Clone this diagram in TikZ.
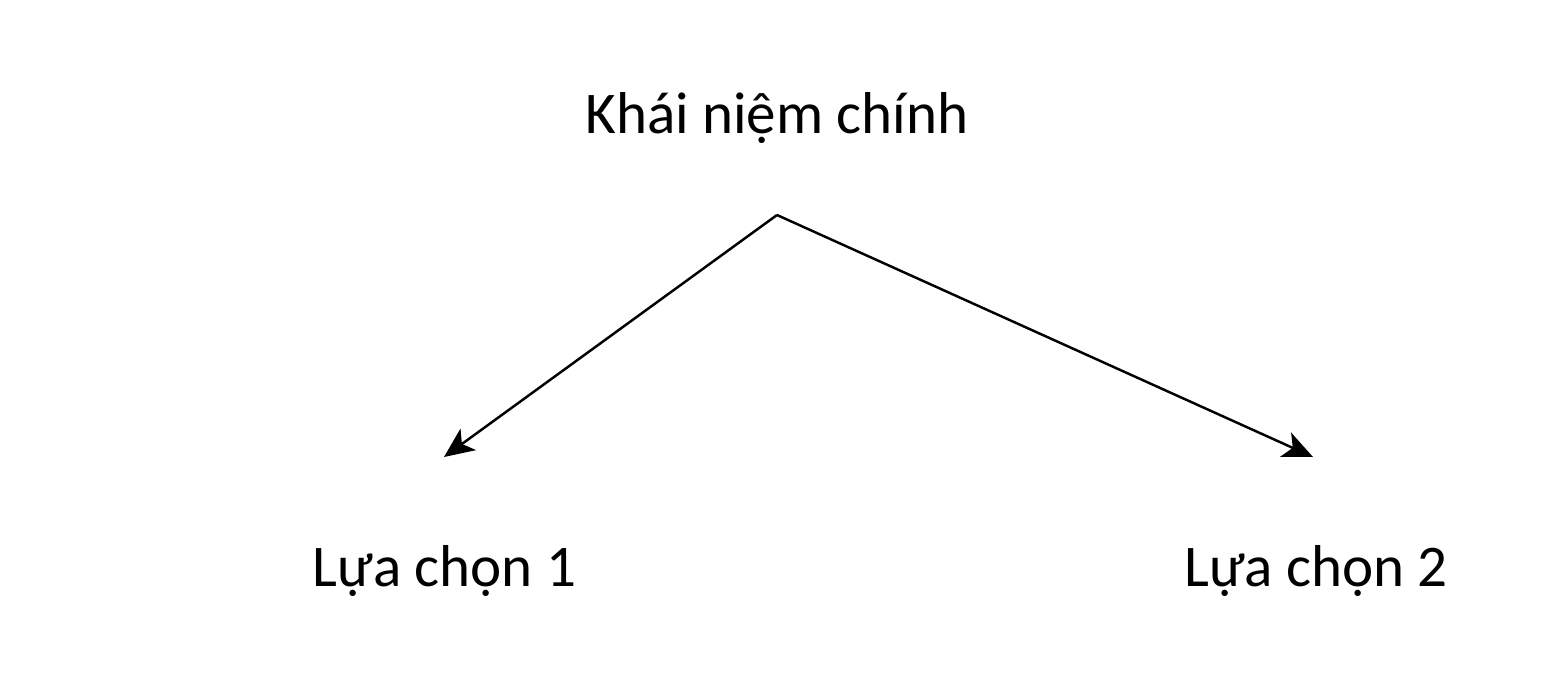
\documentclass[tikz,border=0pt]{standalone}
\usepackage{fontspec}
\setmainfont{Carlito}
\usetikzlibrary{arrows.meta}
\begin{document}
\begin{tikzpicture}[x=0.01cm,y=-0.01cm,
  lbl/.style={anchor=base,inner sep=0pt,font=\fontsize{16.8}{20}\selectfont},
  conn/.style={line width=0.7pt,-{Stealth[length=8.5pt,width=7.5pt,inset=2.2pt]}}]
\useasboundingbox (0,0) rectangle (1556,672);
\node[lbl] (main) at (777,133) {Khái niệm chính};
\node[lbl] (opt1) at (444.5,586) {Lựa chọn 1};
\node[lbl] (opt2) at (1316,586) {Lựa chọn 2};
\coordinate (apex) at (777,215);
\coordinate (end1) at (444,457);
\coordinate (end2) at (1313,457);
\draw[conn] (apex) -- (end1);
\draw[conn] (apex) -- (end2);
\end{tikzpicture}
\end{document}
